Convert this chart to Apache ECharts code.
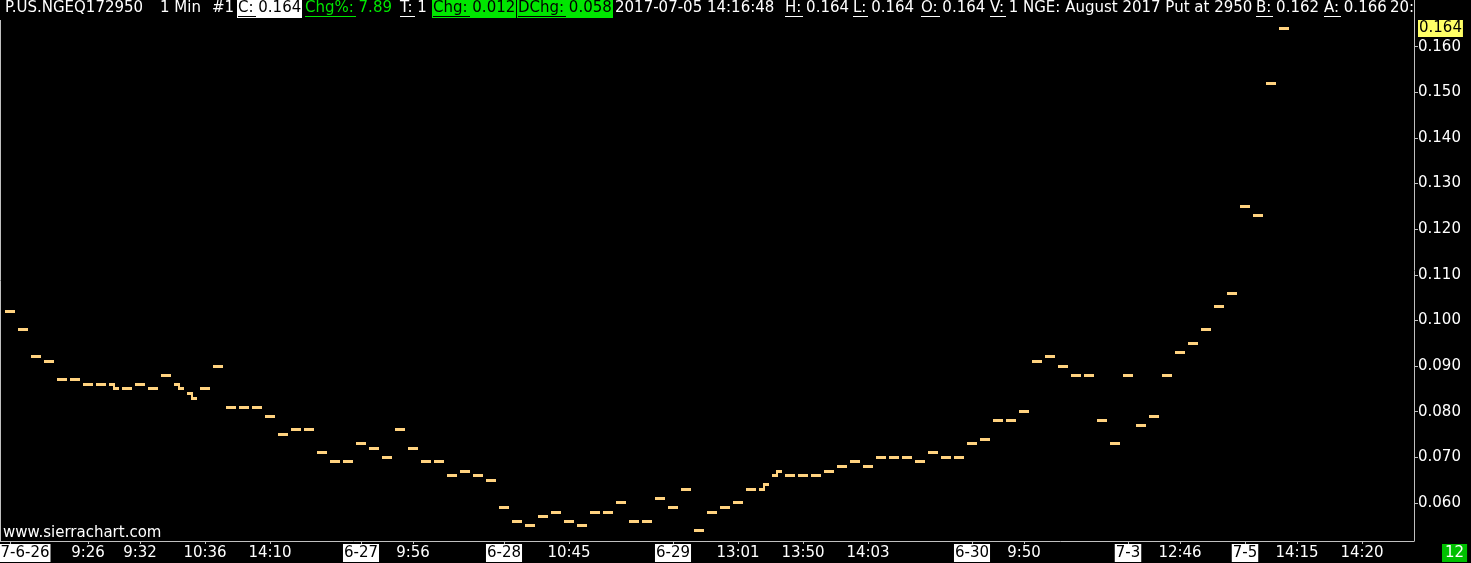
<!DOCTYPE html>
<html>
<head>
<meta charset="utf-8">
<script src="https://cdn.jsdelivr.net/npm/echarts@6/dist/echarts.min.js"></script>
<style>
html,body{margin:0;padding:0;background:#000;}
#chart{width:1471px;height:563px;}
</style>
</head>
<body>
<div id="chart"></div>
<script>
// ---- data (one bar per traded minute) ----
const opens = [
  0.102,0.098,0.092,0.091,0.087,0.087,0.086,0.086,0.086,0.085,
  0.086,0.085,0.088,0.086,0.084,0.085,0.090,0.081,0.081,0.081,
  0.079,0.075,0.076,0.076,0.071,0.069,0.069,0.073,0.072,0.070,
  0.076,0.072,0.069,0.069,0.066,0.067,0.066,0.065,0.059,0.056,
  0.055,0.057,0.058,0.056,0.055,0.058,0.058,0.060,0.056,0.056,
  0.061,0.059,0.063,0.054,0.058,0.059,0.060,0.063,0.063,0.066,
  0.066,0.066,0.066,0.067,0.068,0.069,0.068,0.070,0.070,0.070,
  0.069,0.071,0.070,0.070,0.073,0.074,0.078,0.078,0.080,0.091,
  0.092,0.090,0.088,0.088,0.078,0.073,0.088,0.077,0.079,0.088,
  0.093,0.095,0.098,0.103,0.106,0.125,0.123,0.152,0.164
];
const closes = [
  0.102,0.098,0.092,0.091,0.087,0.087,0.086,0.086,0.085,0.085,
  0.086,0.085,0.088,0.085,0.083,0.085,0.090,0.081,0.081,0.081,
  0.079,0.075,0.076,0.076,0.071,0.069,0.069,0.073,0.072,0.070,
  0.076,0.072,0.069,0.069,0.066,0.067,0.066,0.065,0.059,0.056,
  0.055,0.057,0.058,0.056,0.055,0.058,0.058,0.060,0.056,0.056,
  0.061,0.059,0.063,0.054,0.058,0.059,0.060,0.063,0.064,0.067,
  0.066,0.066,0.066,0.067,0.068,0.069,0.068,0.070,0.070,0.070,
  0.069,0.071,0.070,0.070,0.073,0.074,0.078,0.078,0.080,0.091,
  0.092,0.090,0.088,0.088,0.078,0.073,0.088,0.077,0.079,0.088,
  0.093,0.095,0.098,0.103,0.106,0.125,0.123,0.152,0.164
];
const tickIdx = [0,6,10,15,20,27,31,38,43,51,56,61,66,74,78,86,90,95,99,104];
const tickLabels = ['7-6-26','9:26','9:32','10:36','14:10','6-27','9:56','6-28','10:45','6-29',
                    '13:01','13:50','14:03','6-30','9:50','7-3','12:46','7-5','14:15','14:20'];
const yTicks = [0.06,0.07,0.08,0.09,0.10,0.11,0.12,0.13,0.14,0.15,0.16];
const lastPrice = 0.164;
const barCountText = '12';

// header texts: [label (underlined), value]
const headerTexts = [
  ['', 'P.US.NGEQ172950'], ['', '1 Min'], ['', '#1'],
  ['C:', ' 0.164'], ['Chg%:', ' 7.89'], ['T:', ' 1'],
  ['Chg:', ' 0.012'], ['DChg:', ' 0.058'], ['', '2017-07-05 14:16:48'],
  ['H:', ' 0.164'], ['L:', ' 0.164'], ['O:', ' 0.164'], ['V:', ' 1'],
  ['', 'NGE: August 2017 Put at 2950'], ['B:', ' 0.162'], ['A:', ' 0.166'], ['', '20:']
];

// ---- layout / style ----
const FONT = 'DejaVu Sans';
const HFONT = '15px "DejaVu Sans"';
const BAR = '#ffd27f';
const AXIS = '#c0c0c0';
const GREEN_TXT = '#00e600';
const GREEN_BG = '#00e600';
// header segment left positions and styles (w: white, wb: black on white, g: green, gb: black on green)
const headerX = [5,160,212,237,305,400,432,517,615,785,853,921,990,1023,1256,1324,1390];
const headerSty = ['w','w','w','wb','g','w','gb','gb','w','w','w','w','w','w','w','w','w'];

const seriesData = opens.map((o, i) => [i, o, closes[i]]);

const chart = echarts.init(document.getElementById('chart'), null, {renderer: 'canvas'});

const mctx = document.createElement('canvas').getContext('2d');
mctx.font = HFONT;
function tw(s) { return mctx.measureText(s).width; }

const headerGraphics = [];
headerTexts.forEach(function (pair, k) {
  const sty = headerSty[k];
  const txt = pair[0] + pair[1];
  const fg = sty === 'w' ? '#fff' : (sty === 'g' ? GREEN_TXT : '#000');
  const bg = sty === 'wb' ? '#fff' : (sty === 'gb' ? GREEN_BG : null);
  const x = headerX[k];
  if (bg) {
    headerGraphics.push({type: 'rect', z: 19, shape: {x: x, y: 0, width: Math.round(tw(txt)) + 2, height: 18}, style: {fill: bg}});
  }
  headerGraphics.push({type: 'text', z: 20, x: x + (bg ? 1 : 0), y: 1,
    style: {text: txt, fill: fg, font: HFONT, textVerticalAlign: 'top'}});
  if (pair[0]) {
    const ux = x + (bg ? 1 : 0);
    headerGraphics.push({type: 'rect', z: 21, shape: {x: ux, y: 16, width: Math.round(tw(pair[0]) + 2), height: 1}, style: {fill: fg}});
  }
});

function xLabelFmt(v) {
  const k = tickIdx.indexOf(Math.round(v));
  if (k < 0) return '';
  const s = tickLabels[k];
  if (k === 0) return '{d0|' + s + '}';
  if (s.indexOf('-') >= 0) return '{d|' + s + '}';
  return '{t|' + s + '}';
}

const option = {
  backgroundColor: '#000',
  animation: false,
  grid: {left: 0, top: 0, width: 1414, height: 541, containLabel: false, outerBoundsMode: 'none'},
  xAxis: {
    type: 'value',
    min: -0.7692,
    max: 108,
    splitLine: {show: false},
    axisLine: {show: true, onZero: false, lineStyle: {color: AXIS, width: 1}},
    axisTick: {show: true, customValues: tickIdx, length: 3, lineStyle: {color: AXIS}},
    axisLabel: {
      customValues: tickIdx,
      margin: 3,
      color: '#fff',
      fontFamily: FONT,
      fontSize: 15,
      formatter: xLabelFmt,
      rich: {
        t:  {color: '#fff', fontFamily: FONT, fontSize: 15, padding: [2, 1, 1, 1]},
        d:  {color: '#000', backgroundColor: '#fff', fontFamily: FONT, fontSize: 15, padding: [2, 1, 1, 1]},
        d0: {color: '#000', backgroundColor: '#fff', fontFamily: FONT, fontSize: 15, padding: [2, 1, 1, 31]}
      }
    }
  },
  yAxis: {
    type: 'value',
    position: 'right',
    min: 0.05166,
    max: 0.170236,
    splitLine: {show: false},
    axisLine: {show: true, onZero: false, lineStyle: {color: AXIS, width: 1}},
    axisTick: {show: true, customValues: yTicks, length: 4, lineStyle: {color: AXIS}},
    axisLabel: {
      customValues: yTicks.concat([lastPrice]),
      margin: 4,
      color: '#fff',
      fontFamily: FONT,
      fontSize: 15,
      formatter: function (v) {
        if (Math.abs(v - lastPrice) < 1e-9) return '{hl|' + v.toFixed(3) + '}';
        return '{n|' + v.toFixed(3) + '}';
      },
      rich: {
        n:  {color: '#fff', fontFamily: FONT, fontSize: 15, padding: [1, 1, 1, 0]},
        hl: {color: '#000', backgroundColor: '#ffff66', fontFamily: FONT, fontSize: 15, padding: [1, 1, 1, 1]}
      }
    }
  },
  series: [{
    type: 'custom',
    data: seriesData,
    clip: true,
    renderItem: function (params, api) {
      const i = api.value(0), o = api.value(1), c = api.value(2);
      const po = api.coord([i, o]);
      const pc = api.coord([i, c]);
      const w = api.size([1, 0])[0];
      const hw = Math.round(w * 5 / 13);
      const vw = Math.max(1, Math.round(w / 13));
      const cx = Math.round(po[0]);
      const yo = Math.round(po[1] - 1.5);
      const yc = Math.round(pc[1] - 1.5);
      const children = [
        {type: 'rect', shape: {x: cx - hw, y: yo, width: hw + vw, height: 3}, style: {fill: BAR}},
        {type: 'rect', shape: {x: cx - vw, y: yc, width: hw + vw, height: 3}, style: {fill: BAR}}
      ];
      if (o !== c) {
        children.push({type: 'rect',
          shape: {x: cx - vw, y: Math.min(yo, yc), width: 2 * vw, height: Math.abs(yo - yc) + 3},
          style: {fill: BAR}});
      }
      return {type: 'group', children: children};
    }
  }],
  graphic: [
    {
      type: 'line', z: 10,
      shape: {x1: 0.5, y1: 20, x2: 0.5, y2: 541},
      style: {stroke: AXIS, lineWidth: 1}
    }
  ].concat(headerGraphics).concat([
    {
      type: 'rect', z: 30,
      shape: {x: 1415, y: 0, width: 56, height: 18},
      style: {fill: '#000'}
    },
    {
      type: 'text', left: 3, top: 526, z: 20,
      style: {text: 'www.sierrachart.com', fill: '#fff', font: '15px "DejaVu Sans"'}
    },
    {
      type: 'text', left: 1442, top: 544, z: 20,
      style: {
        text: barCountText, fill: '#fff', font: '15px "DejaVu Sans"',
        backgroundColor: '#00c000', padding: [2, 3, 1, 3]
      }
    }
  ])
};

chart.setOption(option);
</script>
</body>
</html>
